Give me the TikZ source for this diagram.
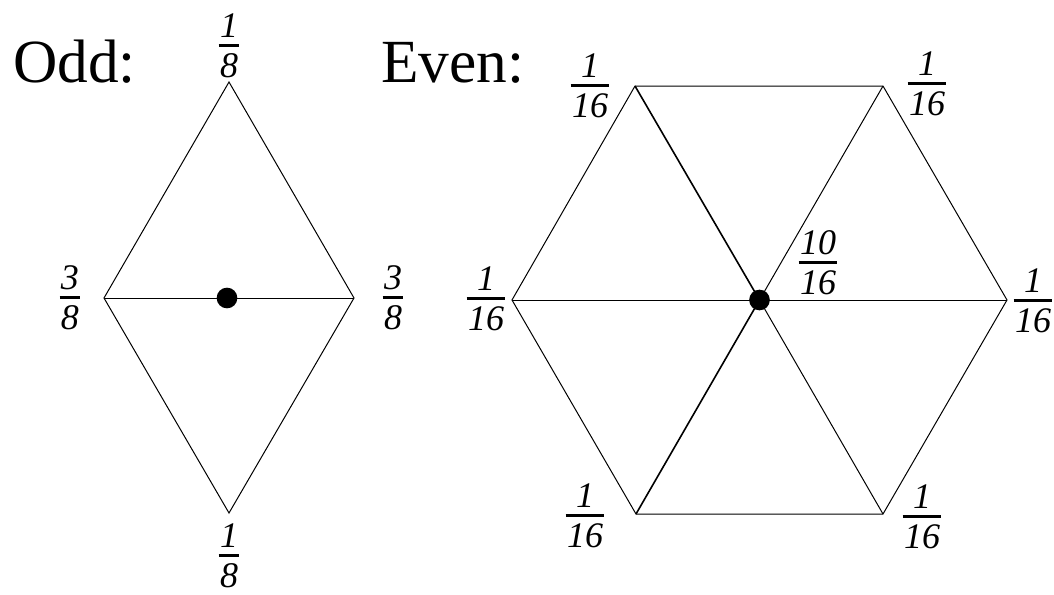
\documentclass[tikz,border=0pt]{standalone}
\usepackage{fontspec}
\setmainfont{Liberation Serif}
\usepackage{tikz}
\usetikzlibrary{positioning}
% stacked weight: numerator, thick bar, denominator
\newcommand{\wfrac}[2]{\begingroup\itshape
    \setbox0\hbox{#1}\setbox2\hbox{#2}%
    \dimen0=\ifdim\wd0>\wd2 \wd0\else\wd2\fi
    \advance\dimen0 by 2pt
    \vbox{\hbox to\dimen0{\hss\box0\hss}\kern4.5pt
        \hrule height 2.3pt\kern5pt
        \hbox to\dimen0{\hss\box2\hss}}\endgroup}
\tikzset{
    edge/.style={line width=0.75pt},
    spoke/.style={line width=1.2pt},
    weight/.style={font=\fontsize{27}{27}\selectfont, inner sep=0pt},
    title/.style={font=\fontsize{46}{46}\selectfont, inner sep=0pt, anchor=base west},
    vdot/.style={circle, fill=black, inner sep=0pt, minimum size=15.5pt}
}

\begin{document}
\begin{tikzpicture}[x=0.75pt,y=-0.75pt]
    \useasboundingbox (0,0) rectangle (1054,594);

    % odd stencil
    \node[title] (oddt) at (13,82) {Odd:};
    \coordinate (oT) at (229,82);
    \coordinate (oL) at (104,298);
    \coordinate (oR) at (354,298);
    \coordinate (oB) at (229,513);
    \draw[edge] (oT) -- (oR) -- (oB) -- (oL) -- cycle;
    \draw[edge] (oL) -- (oR);
    \node[vdot] (odot) at (227,298) {};
    \node[weight] (owT) at (229,46) {\wfrac{1}{8}};
    \node[weight] (owL) at (70,298) {\wfrac{3}{8}};
    \node[weight] (owR) at (393,298) {\wfrac{3}{8}};
    \node[weight] (owB) at (229,556) {\wfrac{1}{8}};

    % even stencil
    \node[title] (event) at (381,82) {Even:};
    \coordinate (eTL) at (635,86);
    \coordinate (eTR) at (883,86);
    \coordinate (eL) at (512,300);
    \coordinate (eR) at (1007,300);
    \coordinate (eBL) at (636,514);
    \coordinate (eBR) at (883,514);
    \coordinate (eC) at (759.5,300);
    \draw[edge] (eTL) -- (eTR) -- (eR) -- (eBR) -- (eBL) -- (eL) -- cycle;
    \draw[edge] (eL) -- (eR);
    \draw[spoke] (eTL) -- (eC);
    \draw[edge] (eC) -- (eBR);
    \draw[spoke] (eBL) -- (eC);
    \draw[edge] (eC) -- (eTR);
    \node[vdot] (edot) at (eC) {};
    \node[weight] (ewC) at (818,263) {\wfrac{10}{16}};
    \node[weight] (ewTL) at (590,86) {\wfrac{1}{16}};
    \node[weight] (ewTR) at (927,84) {\wfrac{1}{16}};
    \node[weight] (ewL) at (486,299) {\wfrac{1}{16}};
    \node[weight] (ewR) at (1033,301) {\wfrac{1}{16}};
    \node[weight] (ewBL) at (585,516) {\wfrac{1}{16}};
    \node[weight] (ewBR) at (922,517) {\wfrac{1}{16}};
\end{tikzpicture}
\end{document}
